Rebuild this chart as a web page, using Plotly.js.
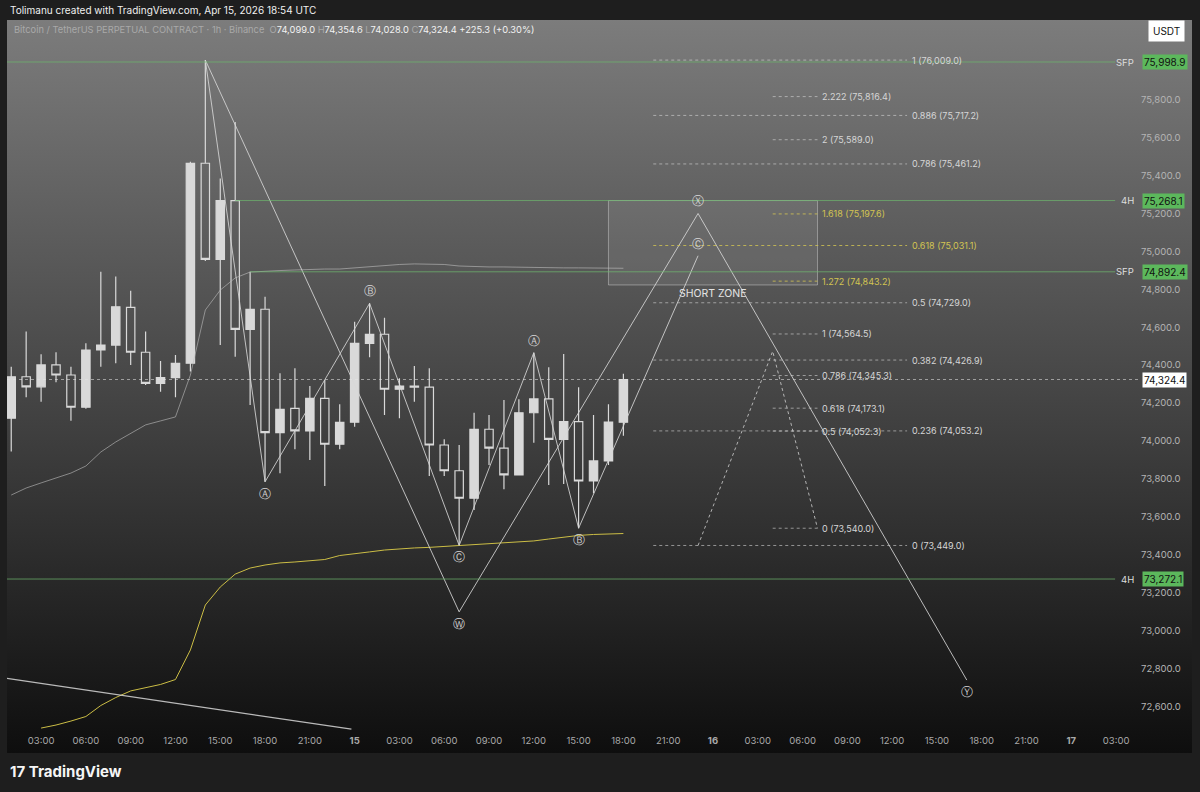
<!DOCTYPE html>
<html><head><meta charset="utf-8">
<script src="https://cdn.plot.ly/plotly-3.0.1.min.js"></script>
<style>
html,body{margin:0;padding:0;background:#1e1e1e;width:1200px;height:792px;overflow:hidden;}
#panel{position:absolute;left:7px;top:20px;width:1185px;height:733px;background:linear-gradient(to bottom,#7c7c7c 0%,#464646 50%,#0e0e0e 100%);}
#chart{position:absolute;left:0;top:0;width:1200px;height:792px;}
</style></head><body>
<div id="panel"></div><div id="chart"></div>
<script>
// ---------- DATA ----------
// hourly candles, first one at 2026-04-14 01:00 UTC
const opens  = [74120,74339,74286,74401,74348,74178,74480,74506,74705,74468,74304,74334,74410,75465,74958,75268,74589,74695,74044,74172,74053,74225,73983,74099,74515,74563,74273,74290,74284,73979,73843,73698,74062,73962,73821,74149,74222,74009,74102,73789,73895,74099.0];
const highs  = [74392,74577,74457,74468,74392,74515,74893,74867,74793,74577,74422,74454,75473,76009,75385,75683,74892,74761,74357,74384,74290,74322,74194,74629,74726,74650,74331,74396,74384,74009,73979,74149,74137,74216,74220,74466,74389,74459,74283,74137,74194,74354.6];
const lows   = [73944,74231,74207,74310,74107,74170,74392,74410,74401,74295,74260,74231,74366,74950,74506,74445,74190,73785,73830,73956,73900,73763,73956,74075,74442,74137,74120,74207,73816,73816,73449,73636,73873,73745,73818,73991,73768,73773,73540,73724,73873,74028.0];
const closes = [74339,74286,74401,74348,74178,74480,74506,74708,74468,74304,74334,74410,75465,74958,75268,74589,74695,74044,74167,74053,74225,73983,74099,74515,74563,74273,74290,74284,73979,73843,73698,74062,73962,73821,74149,74222,74009,74102,73789,73895,74099.1,74324.4];
// grey average line, one value per candle
const greyAvg = [73715,73752,73779,73805,73831,73868,73942,73995,74042,74085,74106,74127,74348,74691,74796,74860,74891,74897,74899,74902,74905,74907,74907,74913,74918,74926,74931,74934,74934,74931,74923,74920,74918,74918,74916,74915,74914,74913,74913,74912,74911,74911];
// yellow average line, starts at the 3rd candle
const yellowAvg = [72486,72502,72523,72547,72605,72647,72682,72700,72716,72742,72898,73135,73230,73298,73330,73346,73357,73362,73367,73375,73396,73407,73415,73425,73431,73436,73439,73444,73449,73454,73457,73462,73467,73473,73483,73494,73502,73507,73510,73512];

// wave count drawings
const abcTimes  = ['2026-04-14 14:00','2026-04-14 18:00','2026-04-15 01:00','2026-04-15 07:00','2026-04-15 12:00','2026-04-15 15:00','2026-04-15 23:00'];
const abcPrices = [76009,73785,74726,73449,74466,73540,74977];
const abcLabels = ['','Ⓐ','Ⓑ','Ⓒ','Ⓐ','Ⓑ','Ⓒ'];
const wxyTimes  = ['2026-04-14 14:00','2026-04-15 07:00','2026-04-15 23:00','2026-04-16 17:00'];
const wxyPrices = [76009,73099,75200,72739];
const wxyLabels = ['','Ⓦ','Ⓧ','Ⓨ'];
const trendTimes  = ['2026-04-14 00:43','2026-04-14 23:47'];
const trendPrices = [72748,72480];
const triTimes  = ['2026-04-15 23:00','2026-04-16 04:00','2026-04-16 07:00'];
const triPrices = [73449,74473.5,73540];

// fib retracement
const fib1Span   = ['2026-04-15 20:00','2026-04-16 13:00'];
const fib1Ratios = ['1','0.886','0.786','0.618','0.5','0.382','0.236','0'];
const fib1Prices = [76009.0,75717.2,75461.2,75031.1,74729.0,74426.9,74053.2,73449.0];
const fib1Gold   = ['0.618'];
// trend-based fib extension
const fib2Span   = ['2026-04-16 04:00','2026-04-16 07:00'];
const fib2Ratios = ['2.222','2','1.618','1.272','1','0.786','0.618','0.5','0'];
const fib2Prices = [75816.4,75589.0,75197.6,74843.2,74564.5,74345.3,74173.1,74052.3,73540.0];
const fib2Gold   = ['1.618','1.272'];

// horizontal levels
const levelPrices = [75998.9,75268.1,74892.4,73272.1];
const levelTags   = ['SFP','4H','SFP','4H'];
const levelStarts = ['2026-04-14 00:43','2026-04-14 16:00','2026-04-14 17:00','2026-04-14 00:43'];
const levelEnd    = '2026-04-17 02:56';

// short zone box
const zoneTimes  = ['2026-04-15 17:00','2026-04-16 07:00'];
const zonePrices = [74823,75268.1];
const zoneCenter = '2026-04-16 00:00';
const zoneText   = 'SHORT ZONE';

// axes
const xTickVals = ['2026-04-14 03:00','2026-04-14 06:00','2026-04-14 09:00','2026-04-14 12:00','2026-04-14 15:00','2026-04-14 18:00','2026-04-14 21:00',
 '2026-04-15 00:00','2026-04-15 03:00','2026-04-15 06:00','2026-04-15 09:00','2026-04-15 12:00','2026-04-15 15:00','2026-04-15 18:00','2026-04-15 21:00',
 '2026-04-16 00:00','2026-04-16 03:00','2026-04-16 06:00','2026-04-16 09:00','2026-04-16 12:00','2026-04-16 15:00','2026-04-16 18:00','2026-04-16 21:00',
 '2026-04-17 00:00','2026-04-17 03:00'];
const xTickText = ['03:00','06:00','09:00','12:00','15:00','18:00','21:00',
 '<b>15</b>','03:00','06:00','09:00','12:00','15:00','18:00','21:00',
 '<b>16</b>','03:00','06:00','09:00','12:00','15:00','18:00','21:00',
 '<b>17</b>','03:00'];
const yTickVals = [72600,72800,73000,73200,73400,73600,73800,74000,74200,74400,74600,74800,75000,75200,75400,75600,75800];
const xRange = ['2026-04-14 00:43','2026-04-17 04:36'];
const yRange = [72460,76220.4];

// ---------- BUILD ----------
function hourStr(i){const t=1+i;const d=14+Math.floor(t/24);const h=t%24;return '2026-04-'+d+' '+String(h).padStart(2,'0')+':00';}
const times = opens.map((_,i)=>hourStr(i));
const fmt = v => v.toLocaleString('en-US',{minimumFractionDigits:1,maximumFractionDigits:1});
const FONT = 'Inter, Roboto, "DejaVu Sans", sans-serif';
const WAVE = 'rgba(215,215,215,0.85)';
const YEL = '#d2c452';

const traces = [];
traces.push({type:'candlestick',x:times,open:opens,high:highs,low:lows,close:closes,
  increasing:{line:{color:'#d9d9d9',width:1.2},fillcolor:'#d9d9d9'},
  decreasing:{line:{color:'#d9d9d9',width:1.2},fillcolor:'rgba(0,0,0,0)'},
  whiskerwidth:0,hoverinfo:'skip',showlegend:false});
traces.push({type:'scatter',mode:'lines',x:times,y:greyAvg,line:{color:'rgba(190,190,190,0.6)',width:1},hoverinfo:'skip'});
traces.push({type:'scatter',mode:'lines',x:times.slice(2),y:yellowAvg,line:{color:'#cbbd45',width:1},hoverinfo:'skip'});
traces.push({type:'scatter',mode:'lines',x:abcTimes,y:abcPrices,line:{color:WAVE,width:1},hoverinfo:'skip'});
traces.push({type:'scatter',mode:'lines',x:wxyTimes,y:wxyPrices,line:{color:WAVE,width:1},hoverinfo:'skip'});
traces.push({type:'scatter',mode:'lines',x:trendTimes,y:trendPrices,line:{color:'rgba(215,215,215,0.85)',width:1.2},hoverinfo:'skip'});
traces.push({type:'scatter',mode:'lines',x:triTimes,y:triPrices,line:{color:'rgba(220,220,220,0.75)',width:1,dash:'dot'},hoverinfo:'skip'});

const shapes = [];
const annotations = [];
// zone
shapes.push({type:'rect',xref:'x',yref:'y',x0:zoneTimes[0],x1:zoneTimes[1],y0:zonePrices[0],y1:zonePrices[1],
  fillcolor:'rgba(255,255,255,0.08)',line:{color:'rgba(215,215,215,0.45)',width:1},layer:'below'});
annotations.push({xref:'x',yref:'y',x:zoneCenter,y:zonePrices[0],yshift:-9,text:zoneText,showarrow:false,
  font:{family:FONT,size:10.5,color:'#e4e4e4'}});
// green levels
levelPrices.forEach((p,i)=>{
  shapes.push({type:'line',xref:'x',yref:'y',x0:levelStarts[i],x1:levelEnd,y0:p,y1:p,line:{color:'rgba(110,185,110,0.7)',width:1}});
  annotations.push({xref:'paper',yref:'y',x:0.9965,y:p,xanchor:'right',text:levelTags[i],showarrow:false,font:{family:FONT,size:9.5,color:'#dedede'}});
  annotations.push({xref:'paper',yref:'y',x:1.0018,y:p,xanchor:'left',text:fmt(p),showarrow:false,bgcolor:'#5cb85c',borderpad:1,
    font:{family:FONT,size:10,color:'#111'}});
});
// last price
const lastClose = closes[closes.length-1];
shapes.push({type:'line',xref:'paper',yref:'y',x0:0,x1:1,y0:lastClose,y1:lastClose,line:{color:'rgba(230,230,230,0.55)',width:1,dash:'dot'}});
annotations.push({xref:'paper',yref:'y',x:1.0018,y:lastClose,xanchor:'left',text:fmt(lastClose),showarrow:false,bgcolor:'#ffffff',borderpad:1,
  font:{family:FONT,size:10,color:'#111'}});
// fibs
function drawFib(span,ratios,prices,gold,shift){
  prices.forEach((p,i)=>{
    const g = gold.includes(ratios[i]);
    const col = g ? YEL : '#d6d6d6';
    shapes.push({type:'line',xref:'x',yref:'y',x0:span[0],x1:span[1],y0:p,y1:p,
      line:{color:g?'rgba(210,196,82,0.8)':'rgba(215,215,215,0.6)',width:1,dash:'dot'}});
    annotations.push({xref:'x',yref:'y',x:span[1],y:p,xanchor:'left',xshift:shift,text:ratios[i]+' ('+fmt(p)+')',showarrow:false,
      font:{family:FONT,size:9,color:col}});
  });
}
drawFib(fib1Span,fib1Ratios,fib1Prices,fib1Gold,3);
drawFib(fib2Span,fib2Ratios,fib2Prices,fib2Gold,3);
// wave labels
function waveLabels(ts,ps,ls){
  ls.forEach((l,i)=>{ if(!l) return;
    const up = ps[i] > ps[i-1];
    annotations.push({xref:'x',yref:'y',x:ts[i],y:ps[i],yshift:up?12:-12,text:l,showarrow:false,
      font:{family:'"DejaVu Sans", sans-serif',size:12,color:'rgba(225,225,225,0.9)'}});
  });
}
waveLabels(abcTimes,abcPrices,abcLabels);
waveLabels(wxyTimes,wxyPrices,wxyLabels);

// header texts
const last = opens.length-1;
const chg = closes[last]-closes[last-1];
const pct = chg/closes[last-1]*100;
const dim = s => '<span style="color:#a9a9a9">'+s+'</span>';
const legendTxt = dim('Bitcoin / TetherUS PERPETUAL CONTRACT · 1h · Binance')+'  '+
  dim('O')+fmt(opens[last])+' '+dim('H')+fmt(highs[last])+' '+dim('L')+fmt(lows[last])+' '+dim('C')+fmt(closes[last])+
  ' '+(chg>=0?'+':'')+fmt(chg)+' ('+(chg>=0?'+':'')+pct.toFixed(2)+'%)';
annotations.push({xref:'paper',yref:'paper',x:0.0045,y:(733-29)/713,xanchor:'left',yanchor:'middle',text:legendTxt,showarrow:false,
  font:{family:FONT,size:9.3,color:'#f2f2f2'}});
annotations.push({xref:'paper',yref:'paper',x:0.0005,y:(733-10)/713,xanchor:'left',yanchor:'middle',
  text:'Tolimanu created with TradingView.com, Apr 15, 2026 18:54 UTC',showarrow:false,font:{family:FONT,size:10,color:'#f0f0f0'}});
annotations.push({xref:'paper',yref:'paper',x:(1166-7)/1133,y:(733-31)/713,xanchor:'center',yanchor:'middle',text:'USDT',showarrow:false,
  bgcolor:'#ffffff',borderpad:4,font:{family:FONT,size:10,color:'#111'}});
annotations.push({xref:'paper',yref:'paper',x:0.0005,y:(733-771)/713,xanchor:'left',yanchor:'middle',
  text:'<b>17 TradingView</b>',showarrow:false,font:{family:FONT,size:15,color:'#f5f5f5'}});

const layout = {
  width:1200,height:792,margin:{l:7,r:60,t:20,b:59},
  paper_bgcolor:'rgba(0,0,0,0)',plot_bgcolor:'rgba(0,0,0,0)',
  showlegend:false,boxgap:0.2,hovermode:false,
  xaxis:{type:'date',range:xRange,rangeslider:{visible:false},showgrid:false,zeroline:false,showline:false,
    tickmode:'array',tickvals:xTickVals,ticktext:xTickText,ticks:'',tickfont:{family:FONT,size:9.5,color:'#a9a9a9'},fixedrange:true},
  yaxis:{range:yRange,side:'right',showgrid:false,zeroline:false,showline:false,tickmode:'array',tickvals:yTickVals,
    ticktext:yTickVals.map(fmt),ticks:'',tickfont:{family:FONT,size:9.5,color:'#b4b4b4'},fixedrange:true},
  shapes:shapes,annotations:annotations
};
Plotly.newPlot('chart',traces,layout,{displayModeBar:false,staticPlot:true});
</script>
</body></html>
